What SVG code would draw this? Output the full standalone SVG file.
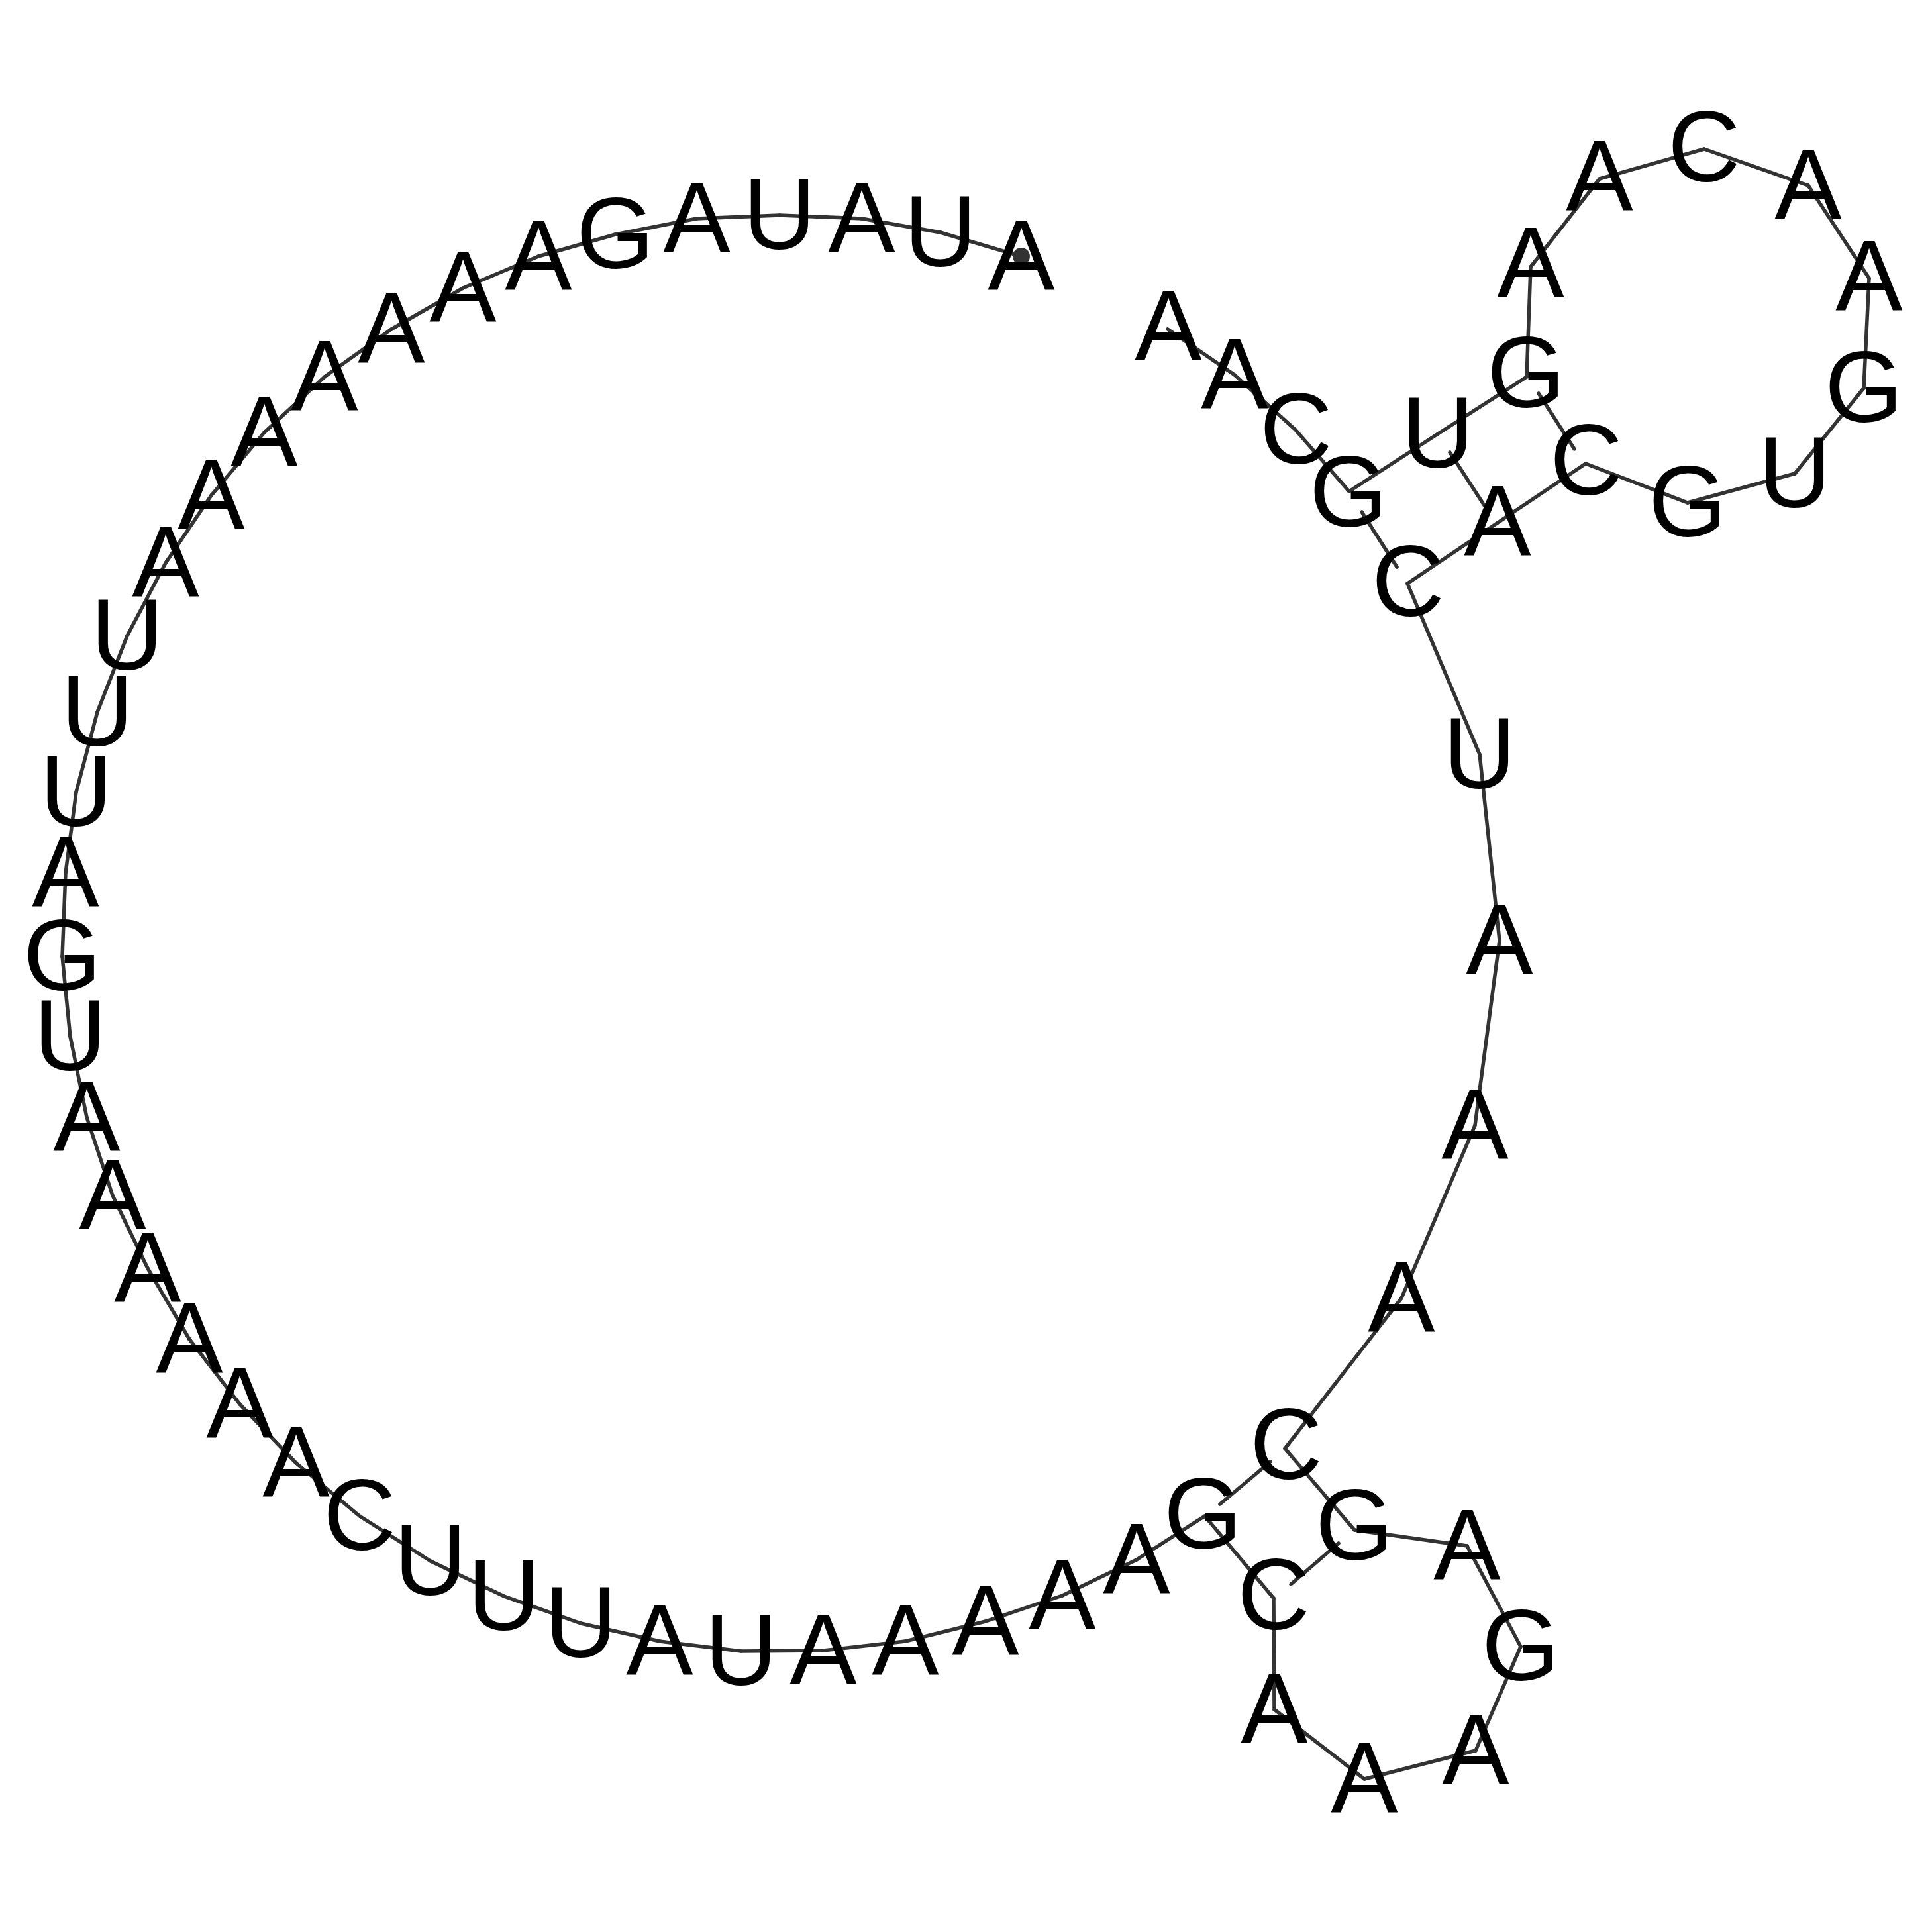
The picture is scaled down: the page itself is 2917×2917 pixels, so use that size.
<svg xmlns="http://www.w3.org/2000/svg" width="2917" height="2917" viewBox="0 0 2917 2917">
<style>
.bb{stroke:#333;stroke-width:5.5;stroke-linecap:round;fill:none}
.pr{stroke:#333;stroke-width:5.5;stroke-linecap:round;fill:none}
.nt{font-family:"Liberation Sans",Arial,Helvetica,sans-serif;font-size:152px;text-anchor:middle;fill:#000}
</style>
<rect x="0" y="0" width="2917" height="2917" fill="#fff"/>
<g id="connectors">
<line class="bb" x1="1542" y1="387" x2="1420" y2="351"/>
<line class="bb" x1="1420" y1="351" x2="1301" y2="330"/>
<line class="bb" x1="1301" y1="330" x2="1177" y2="325"/>
<line class="bb" x1="1177" y1="325" x2="1052" y2="330"/>
<line class="bb" x1="1052" y1="330" x2="929" y2="354"/>
<line class="bb" x1="929" y1="354" x2="813" y2="387"/>
<line class="bb" x1="813" y1="387" x2="699" y2="435"/>
<line class="bb" x1="699" y1="435" x2="591" y2="497"/>
<line class="bb" x1="591" y1="497" x2="490" y2="569"/>
<line class="bb" x1="490" y1="569" x2="399" y2="653"/>
<line class="bb" x1="399" y1="653" x2="319" y2="748"/>
<line class="bb" x1="319" y1="748" x2="250" y2="850"/>
<line class="bb" x1="250" y1="850" x2="192" y2="960"/>
<line class="bb" x1="192" y1="960" x2="147" y2="1075"/>
<line class="bb" x1="147" y1="1075" x2="115" y2="1196"/>
<line class="bb" x1="115" y1="1196" x2="99" y2="1318"/>
<line class="bb" x1="99" y1="1318" x2="94" y2="1444"/>
<line class="bb" x1="94" y1="1444" x2="106" y2="1565"/>
<line class="bb" x1="106" y1="1565" x2="131" y2="1687"/>
<line class="bb" x1="131" y1="1687" x2="170" y2="1805"/>
<line class="bb" x1="170" y1="1805" x2="223" y2="1915"/>
<line class="bb" x1="223" y1="1915" x2="286" y2="2022"/>
<line class="bb" x1="286" y1="2022" x2="362" y2="2120"/>
<line class="bb" x1="362" y1="2120" x2="447" y2="2209"/>
<line class="bb" x1="447" y1="2209" x2="543" y2="2289"/>
<line class="bb" x1="543" y1="2289" x2="650" y2="2357"/>
<line class="bb" x1="650" y1="2357" x2="761" y2="2410"/>
<line class="bb" x1="761" y1="2410" x2="877" y2="2451"/>
<line class="bb" x1="877" y1="2451" x2="996" y2="2478"/>
<line class="bb" x1="996" y1="2478" x2="1119" y2="2493"/>
<line class="bb" x1="1119" y1="2493" x2="1243" y2="2492"/>
<line class="bb" x1="1243" y1="2492" x2="1367" y2="2478"/>
<line class="bb" x1="1367" y1="2478" x2="1488" y2="2448"/>
<line class="bb" x1="1488" y1="2448" x2="1604" y2="2409"/>
<line class="bb" x1="1604" y1="2409" x2="1716" y2="2355"/>
<line class="bb" x1="1716" y1="2355" x2="1819" y2="2289"/>
<line class="bb" x1="1819" y1="2289" x2="1923" y2="2413"/>
<line class="bb" x1="1923" y1="2413" x2="1924" y2="2581"/>
<line class="bb" x1="1924" y1="2581" x2="2060" y2="2686"/>
<line class="bb" x1="2060" y1="2686" x2="2228" y2="2643"/>
<line class="bb" x1="2228" y1="2643" x2="2296" y2="2486"/>
<line class="bb" x1="2296" y1="2486" x2="2215" y2="2334"/>
<line class="bb" x1="2215" y1="2334" x2="2045" y2="2310"/>
<line class="bb" x1="2045" y1="2310" x2="1940" y2="2187"/>
<line class="bb" x1="1940" y1="2187" x2="2116" y2="1960"/>
<line class="bb" x1="2116" y1="1960" x2="2227" y2="1699"/>
<line class="bb" x1="2227" y1="1699" x2="2264" y2="1420"/>
<line class="bb" x1="2264" y1="1420" x2="2234" y2="1139"/>
<line class="bb" x1="2234" y1="1139" x2="2125" y2="881"/>
<line class="bb" x1="2125" y1="881" x2="2260" y2="790"/>
<line class="bb" x1="2260" y1="790" x2="2394" y2="700"/>
<line class="bb" x1="2394" y1="700" x2="2548" y2="759"/>
<line class="bb" x1="2548" y1="759" x2="2710" y2="715"/>
<line class="bb" x1="2710" y1="715" x2="2814" y2="586"/>
<line class="bb" x1="2814" y1="586" x2="2822" y2="420"/>
<line class="bb" x1="2822" y1="420" x2="2730" y2="280"/>
<line class="bb" x1="2730" y1="280" x2="2573" y2="225"/>
<line class="bb" x1="2573" y1="225" x2="2415" y2="270"/>
<line class="bb" x1="2415" y1="270" x2="2311" y2="403"/>
<line class="bb" x1="2311" y1="403" x2="2305" y2="569"/>
<line class="bb" x1="2305" y1="569" x2="2171" y2="655"/>
<line class="bb" x1="2171" y1="655" x2="2037" y2="742"/>
<line class="bb" x1="2037" y1="742" x2="1956" y2="649"/>
<line class="bb" x1="1956" y1="649" x2="1864" y2="566"/>
<line class="bb" x1="1864" y1="566" x2="1763" y2="497"/>
<line class="pr" x1="1842" y1="2271" x2="1918" y2="2207"/>
<line class="pr" x1="1949" y1="2392" x2="2021" y2="2330"/>
<line class="pr" x1="2056" y1="773" x2="2109" y2="856"/>
<line class="pr" x1="2189" y1="683" x2="2241" y2="763"/>
<line class="pr" x1="2323" y1="594" x2="2377" y2="678"/>
<circle cx="1542" cy="387" r="13" fill="#333"/>
</g>
<g id="n1"><text class="nt" x="1542" y="438">A</text></g>
<g id="n2"><text class="nt" x="1420" y="402">U</text></g>
<g id="n3"><text class="nt" x="1301" y="381">A</text></g>
<g id="n4"><text class="nt" x="1177" y="376">U</text></g>
<g id="n5"><text class="nt" x="1052" y="381">A</text></g>
<g id="n6"><text class="nt" x="929" y="405">G</text></g>
<g id="n7"><text class="nt" x="813" y="438">A</text></g>
<g id="n8"><text class="nt" x="699" y="486">A</text></g>
<g id="n9"><text class="nt" x="591" y="548">A</text></g>
<g id="n10"><text class="nt" x="490" y="620">A</text></g>
<g id="n11"><text class="nt" x="399" y="704">A</text></g>
<g id="n12"><text class="nt" x="319" y="799">A</text></g>
<g id="n13"><text class="nt" x="250" y="901">A</text></g>
<g id="n14"><text class="nt" x="192" y="1011">U</text></g>
<g id="n15"><text class="nt" x="147" y="1126">U</text></g>
<g id="n16"><text class="nt" x="115" y="1247">U</text></g>
<g id="n17"><text class="nt" x="99" y="1369">A</text></g>
<g id="n18"><text class="nt" x="94" y="1495">G</text></g>
<g id="n19"><text class="nt" x="106" y="1616">U</text></g>
<g id="n20"><text class="nt" x="131" y="1738">A</text></g>
<g id="n21"><text class="nt" x="170" y="1856">A</text></g>
<g id="n22"><text class="nt" x="223" y="1966">A</text></g>
<g id="n23"><text class="nt" x="286" y="2073">A</text></g>
<g id="n24"><text class="nt" x="362" y="2171">A</text></g>
<g id="n25"><text class="nt" x="447" y="2260">A</text></g>
<g id="n26"><text class="nt" x="543" y="2340">C</text></g>
<g id="n27"><text class="nt" x="650" y="2408">U</text></g>
<g id="n28"><text class="nt" x="761" y="2461">U</text></g>
<g id="n29"><text class="nt" x="877" y="2502">U</text></g>
<g id="n30"><text class="nt" x="996" y="2529">A</text></g>
<g id="n31"><text class="nt" x="1119" y="2544">U</text></g>
<g id="n32"><text class="nt" x="1243" y="2543">A</text></g>
<g id="n33"><text class="nt" x="1367" y="2529">A</text></g>
<g id="n34"><text class="nt" x="1488" y="2499">A</text></g>
<g id="n35"><text class="nt" x="1604" y="2460">A</text></g>
<g id="n36"><text class="nt" x="1716" y="2406">A</text></g>
<g id="n37"><text class="nt" x="1816" y="2338">G</text></g>
<g id="n38"><text class="nt" x="1923" y="2460">C</text></g>
<g id="n39"><text class="nt" x="1924" y="2632">A</text></g>
<g id="n40"><text class="nt" x="2060" y="2737">A</text></g>
<g id="n41"><text class="nt" x="2228" y="2694">A</text></g>
<g id="n42"><text class="nt" x="2296" y="2537">G</text></g>
<g id="n43"><text class="nt" x="2215" y="2385">A</text></g>
<g id="n44"><text class="nt" x="2045" y="2355">G</text></g>
<g id="n45"><text class="nt" x="1942" y="2233">C</text></g>
<g id="n46"><text class="nt" x="2116" y="2011">A</text></g>
<g id="n47"><text class="nt" x="2227" y="1750">A</text></g>
<g id="n48"><text class="nt" x="2264" y="1471">A</text></g>
<g id="n49"><text class="nt" x="2234" y="1190">U</text></g>
<g id="n50"><text class="nt" x="2126" y="930">C</text></g>
<g id="n51"><text class="nt" x="2261" y="839">A</text></g>
<g id="n52"><text class="nt" x="2395" y="747">C</text></g>
<g id="n53"><text class="nt" x="2548" y="810">G</text></g>
<g id="n54"><text class="nt" x="2710" y="766">U</text></g>
<g id="n55"><text class="nt" x="2814" y="637">G</text></g>
<g id="n56"><text class="nt" x="2822" y="469">A</text></g>
<g id="n57"><text class="nt" x="2730" y="331">A</text></g>
<g id="n58"><text class="nt" x="2573" y="274">C</text></g>
<g id="n59"><text class="nt" x="2415" y="318">A</text></g>
<g id="n60"><text class="nt" x="2311" y="449">A</text></g>
<g id="n61"><text class="nt" x="2304" y="615">G</text></g>
<g id="n62"><text class="nt" x="2171" y="706">U</text></g>
<g id="n63"><text class="nt" x="2036" y="795">G</text></g>
<g id="n64"><text class="nt" x="1957" y="700">C</text></g>
<g id="n65"><text class="nt" x="1864" y="617">A</text></g>
<g id="n66"><text class="nt" x="1764" y="544">A</text></g>
</svg>
